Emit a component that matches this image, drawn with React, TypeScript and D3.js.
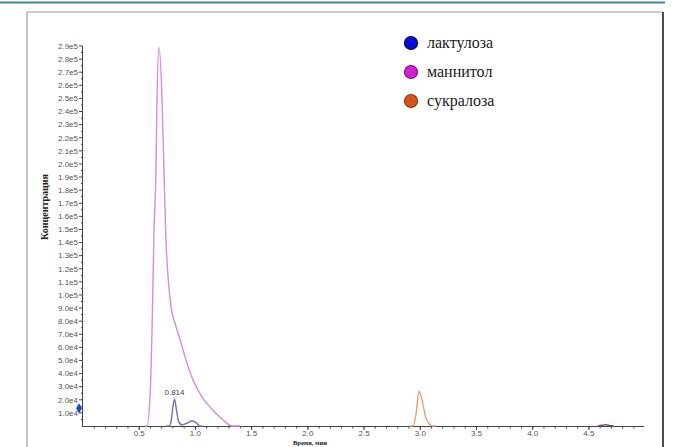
import React from "react";
import * as d3 from "d3";

// retention time (min) and signal (counts)
const mannitolTime = [0.55, 0.569, 0.596, 0.614, 0.632, 0.649, 0.658, 0.676, 0.703, 0.72, 0.738, 0.76, 0.785, 0.82, 0.863, 0.925, 0.979, 1.059, 1.157, 1.246, 1.326, 1.4];
const mannitolValue = [0, 0, 22000, 73000, 150000, 195000, 249000, 289000, 249000, 195000, 142000, 110000, 90000, 78000, 66000, 48000, 35000, 22000, 12000, 4600, 0, 0];

const lactuloseTime = [0.74, 0.765, 0.782, 0.797, 0.814, 0.83, 0.85, 0.88, 0.92, 0.97, 1.0, 1.04, 1.06];
const lactuloseValue = [0, 0, 3000, 13000, 20600, 13000, 3500, 800, 2000, 3800, 3000, 0, 0];

const sucraloseTime = [2.9, 2.935, 2.96, 2.99, 3.02, 3.05, 3.08, 3.11, 3.14];
const sucraloseValue = [0, 0, 8000, 26500, 18000, 6000, 1500, 0, 0];

const otherTime = [4.58, 4.62, 4.65, 4.68, 4.72];
const otherValue = [0, 600, 900, 500, 0];

const peakLabelTime = 0.814;
const peakLabelValue = 20600;
const peakLabel = "0.814";

const xTickValues = [0.5, 1.0, 1.5, 2.0, 2.5, 3.0, 3.5, 4.0, 4.5];
const xTickLabels = ["0.5", "1.0", "1.5", "2.0", "2.5", "3.0", "3.5", "4.0", "4.5"];
const yTickValues = [
  10000, 20000, 30000, 40000, 50000, 60000, 70000, 80000, 90000, 100000,
  110000, 120000, 130000, 140000, 150000, 160000, 170000, 180000, 190000, 200000,
  210000, 220000, 230000, 240000, 250000, 260000, 270000, 280000, 290000,
];
const yTickLabels = [
  "1.0e4", "2.0e4", "3.0e4", "4.0e4", "5.0e4", "6.0e4", "7.0e4", "8.0e4", "9.0e4", "1.0e5",
  "1.1e5", "1.2e5", "1.3e5", "1.4e5", "1.5e5", "1.6e5", "1.7e5", "1.8e5", "1.9e5", "2.0e5",
  "2.1e5", "2.2e5", "2.3e5", "2.4e5", "2.5e5", "2.6e5", "2.7e5", "2.8e5", "2.9e5",
];

const legendNames = ["лактулоза", "маннитол", "сукралоза"];
const legendFill = ["#0a0ad2", "#d41ecf", "#d8531c"];
const legendStroke = ["#00006e", "#861283", "#99360e"];

const xTitle = "Время, мин";
const yTitle = "Концентрация";

const W = 681;
const H = 447;

const App = () => {
  const x = d3.scaleLinear().domain([0, 4.99]).range([83, 644]);
  const y = d3.scaleLinear().domain([0, 290000]).range([426, 46]);

  const line = d3
    .line<[number, number]>()
    .x((d) => x(d[0]))
    .y((d) => y(d[1]))
    .curve(d3.curveMonotoneX);

  const zip = (t: number[], v: number[]) => t.map((d, i) => [d, v[i]] as [number, number]);

  const series = [
    { pts: zip(otherTime, otherValue), color: "#8a3a8a" },
    { pts: zip(sucraloseTime, sucraloseValue), color: "#e6a070" },
    { pts: zip(lactuloseTime, lactuloseValue), color: "#6a74b6" },
    { pts: zip(mannitolTime, mannitolValue), color: "#d88be0" },
  ];

  const xMinor = d3.range(1, 50).map((d) => d / 10);
  const yMinor = d3.range(0, 29).map((d) => d * 10000 + 5000);

  const axisColor = "#444";
  const tickFont = { fontFamily: "Liberation Sans, Arial, sans-serif", fontSize: 8, fill: "#555" };

  return (
    <svg
      width={W}
      height={H}
      style={{ position: "absolute", left: 0, top: 0, background: "#fff" }}
    >
      {/* page decoration */}
      <line x1={0} x2={665} y1={2.5} y2={2.5} stroke="#3d8a99" strokeWidth={2} />
      <line x1={27} x2={663} y1={12} y2={12} stroke="#9a9a9a" strokeWidth={1.2} />
      <line x1={27} x2={27} y1={12} y2={H} stroke="#8a8a8a" strokeWidth={1} />
      <line x1={663} x2={663} y1={12} y2={H} stroke="#111" strokeWidth={1.5} />

      {/* y axis */}
      <line x1={x(0) - 0.5} x2={x(0) - 0.5} y1={y(290000)} y2={y(0)} stroke={axisColor} />
      {yTickValues.map((v, i) => (
        <g key={"yt" + i}>
          <line x1={x(0) - 4} x2={x(0)} y1={y(v)} y2={y(v)} stroke={axisColor} />
          <text x={x(0) - 5} y={y(v) + 2.8} textAnchor="end" {...tickFont}>
            {yTickLabels[i]}
          </text>
        </g>
      ))}
      {yMinor.map((v, i) => (
        <line key={"ym" + i} x1={x(0) - 2} x2={x(0)} y1={y(v)} y2={y(v)} stroke={axisColor} />
      ))}

      {/* x axis */}
      <line x1={x(0) - 1} x2={x(4.99)} y1={y(0) + 0.5} y2={y(0) + 0.5} stroke={axisColor} />
      {xMinor.map((v, i) => (
        <line key={"xm" + i} x1={x(v)} x2={x(v)} y1={y(0)} y2={y(0) + 2.5} stroke={axisColor} />
      ))}
      {xTickValues.map((v, i) => (
        <g key={"xt" + i}>
          <line x1={x(v)} x2={x(v)} y1={y(0)} y2={y(0) + 4} stroke={axisColor} />
          <text x={x(v)} y={y(0) + 10} textAnchor="middle" {...tickFont}>
            {xTickLabels[i]}
          </text>
        </g>
      ))}

      {/* titles */}
      <text
        x={310}
        y={445}
        textAnchor="middle"
        fontFamily="Liberation Serif, serif"
        fontWeight="bold"
        fontSize={6.5}
        fill="#222"
      >
        {xTitle}
      </text>
      <text
        transform="translate(48,207) rotate(-90)"
        textAnchor="middle"
        fontFamily="Liberation Serif, serif"
        fontWeight="bold"
        fontSize={10}
        fill="#222"
      >
        {yTitle}
      </text>

      {/* traces */}
      {series.map((s, i) => (
        <path key={"s" + i} d={line(s.pts) || ""} fill="none" stroke={s.color} strokeWidth={1.4} />
      ))}

      <text x={x(peakLabelTime)} y={y(peakLabelValue) - 4} textAnchor="middle" {...tickFont} fill="#444">
        {peakLabel}
      </text>

      {/* start marker */}
      <path
        d={d3.symbol(d3.symbolDiamond, 30)() || ""}
        transform={`translate(${x(0) - 4},${y(13500)})`}
        fill="#1b3fd0"
      />

      {/* legend */}
      {legendNames.map((n, i) => (
        <g key={"lg" + i} transform={`translate(411,${43 + i * 29})`}>
          <circle r={6.5} fill={legendFill[i]} stroke={legendStroke[i]} strokeWidth={1.2} />
          <text x={16} y={5} fontFamily="Liberation Serif, serif" fontSize={16} fill="#1a1a1a">
            {n}
          </text>
        </g>
      ))}
    </svg>
  );
};

export default App;
